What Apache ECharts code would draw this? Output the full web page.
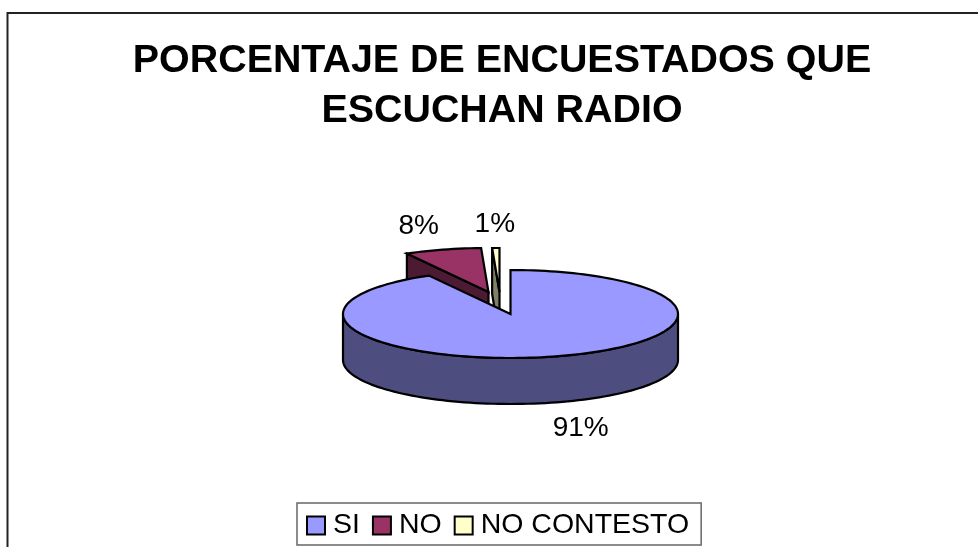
<!DOCTYPE html>
<html>
<head>
<meta charset="utf-8">
<title>Porcentaje de encuestados que escuchan radio</title>
<script src="https://cdn.jsdelivr.net/npm/echarts@6/dist/echarts.min.js"></script>
<style>
html,body{margin:0;padding:0;background:#fff;}
#chart{width:978px;height:547px;}
</style>
</head>
<body>
<div id="chart"></div>
<script>
var titleText = 'PORCENTAJE DE ENCUESTADOS QUE\nESCUCHAN RADIO';
var categories = ['SI', 'NO', 'NO CONTESTO'];
// slice sizes as measured on the drawing, the printed labels are rounded down
var percents = [91.9, 7.4, 0.7];
var percentLabels = ['91%', '8%', '1%'];
var colors = ['#9999ff', '#993366', '#ffffcc'];
var sideColors = ['#4d4d80', '#4d1a33', '#808066'];
// how far each slice is pulled out of the pie, and where its label sits
var explode = [[0, 0], [-22, -22], [-11, -22]];
var labelOffset = [[28, 72], [-24, -23], [-1, -24]];
var sliceZ = [9, 8, 7];

var cx = 510.5, cy = 314, rx = 167.5, ry = 44, depth = 46;
var fontName = '"Liberation Sans", Arial, sans-serif';

var total = 0;
for(var i=0;i<percents.length;i++){
	total += percents[i];
}

function pointAt(deg, ox, oy, down){
	var a = deg * Math.PI / 180;
	return [cx + ox + rx * Math.sin(a), cy + oy - ry * Math.cos(a) + (down || 0)];
}

function arcPoints(from, to, ox, oy, down){
	var pts = [];
	var steps = Math.max(2, Math.ceil((to - from) / 2));
	for(var s=0;s<=steps;s++){
		pts.push(pointAt(from + (to - from) * s / steps, ox, oy, down));
	}
	return pts;
}

function sliceShape(points, fill){
	return {
		type: 'polygon',
		shape: {points: points},
		style: {fill: fill, stroke: '#000', lineWidth: 2.2, lineJoin: 'miter'}
	};
}

function renderSlice(idx){
	return function(params, api){
		var start = 0;
		for(var i=0;i<idx;i++){
			start += percents[i] / total * 360;
		}
		var end = start + api.value(0) / total * 360;
		var ox = explode[idx][0], oy = explode[idx][1];
		var apex = [cx + ox, cy + oy];
		var apexLow = [apex[0], apex[1] + depth];
		var p0 = pointAt(start, ox, oy), p1 = pointAt(end, ox, oy);
		var kids = [];

		// a wall only shows when its top edge runs right to left on screen
		if(p0[0] < apex[0]){
			kids.push(sliceShape([apex, p0, [p0[0], p0[1] + depth], apexLow], sideColors[idx]));
		}
		if(apex[0] < p1[0]){
			kids.push(sliceShape([p1, apex, apexLow, [p1[0], p1[1] + depth]], sideColors[idx]));
		}
		var from = Math.max(start, 90), to = Math.min(end, 270);
		if(to > from){
			var wall = arcPoints(from, to, ox, oy).concat(arcPoints(from, to, ox, oy, depth).reverse());
			kids.push(sliceShape(wall, sideColors[idx]));
		}

		kids.push(sliceShape([apex].concat(arcPoints(start, end, ox, oy)), colors[idx]));

		var mid = pointAt((start + end) / 2, ox, oy);
		kids.push({
			type: 'text',
			x: mid[0] + labelOffset[idx][0],
			y: mid[1] + labelOffset[idx][1],
			style: {
				text: percentLabels[idx],
				fill: '#000',
				font: '28px ' + fontName,
				align: 'center',
				verticalAlign: 'middle'
			}
		});
		return {type: 'group', children: kids};
	};
}

// pie is drawn back to front: the big slice goes over the pulled ones
var series = [];
for(var n=0;n<categories.length;n++){
	series.push({
		name: categories[n],
		type: 'custom',
		coordinateSystem: 'none',
		z: sliceZ[n],
		silent: true,
		animation: false,
		itemStyle: {color: colors[n]},
		renderItem: renderSlice(n),
		data: [[percents[n]]]
	});
}

var chart = echarts.init(document.getElementById('chart'), null, {renderer: 'canvas'});
chart.setOption({
	animation: false,
	backgroundColor: '#fff',
	title: {
		text: titleText,
		left: 497,
		top: 31,
		textAlign: 'center',
		textStyle: {
			fontFamily: fontName,
			fontSize: 39.4,
			fontWeight: 'bold',
			color: '#000',
			lineHeight: 50
		}
	},
	legend: {
		data: categories,
		left: 297,
		top: 503,
		padding: [7, 12, 4, 9],
		itemGap: 12,
		itemWidth: 18,
		itemHeight: 18,
		borderColor: '#666',
		borderWidth: 1.5,
		backgroundColor: '#fff',
		selectedMode: false,
		icon: 'rect',
		itemStyle: {borderColor: '#000', borderWidth: 2},
		textStyle: {fontFamily: fontName, fontSize: 28.5, lineHeight: 28, color: '#000', padding: [3, 0, 0, 3]}
	},
	graphic: [{
		type: 'polyline',
		silent: true,
		shape: {points: [[7.5, 547], [7.5, 13], [978, 13]]},
		style: {fill: 'none', stroke: '#222', lineWidth: 2}
	}],
	series: series
});
</script>
</body>
</html>
